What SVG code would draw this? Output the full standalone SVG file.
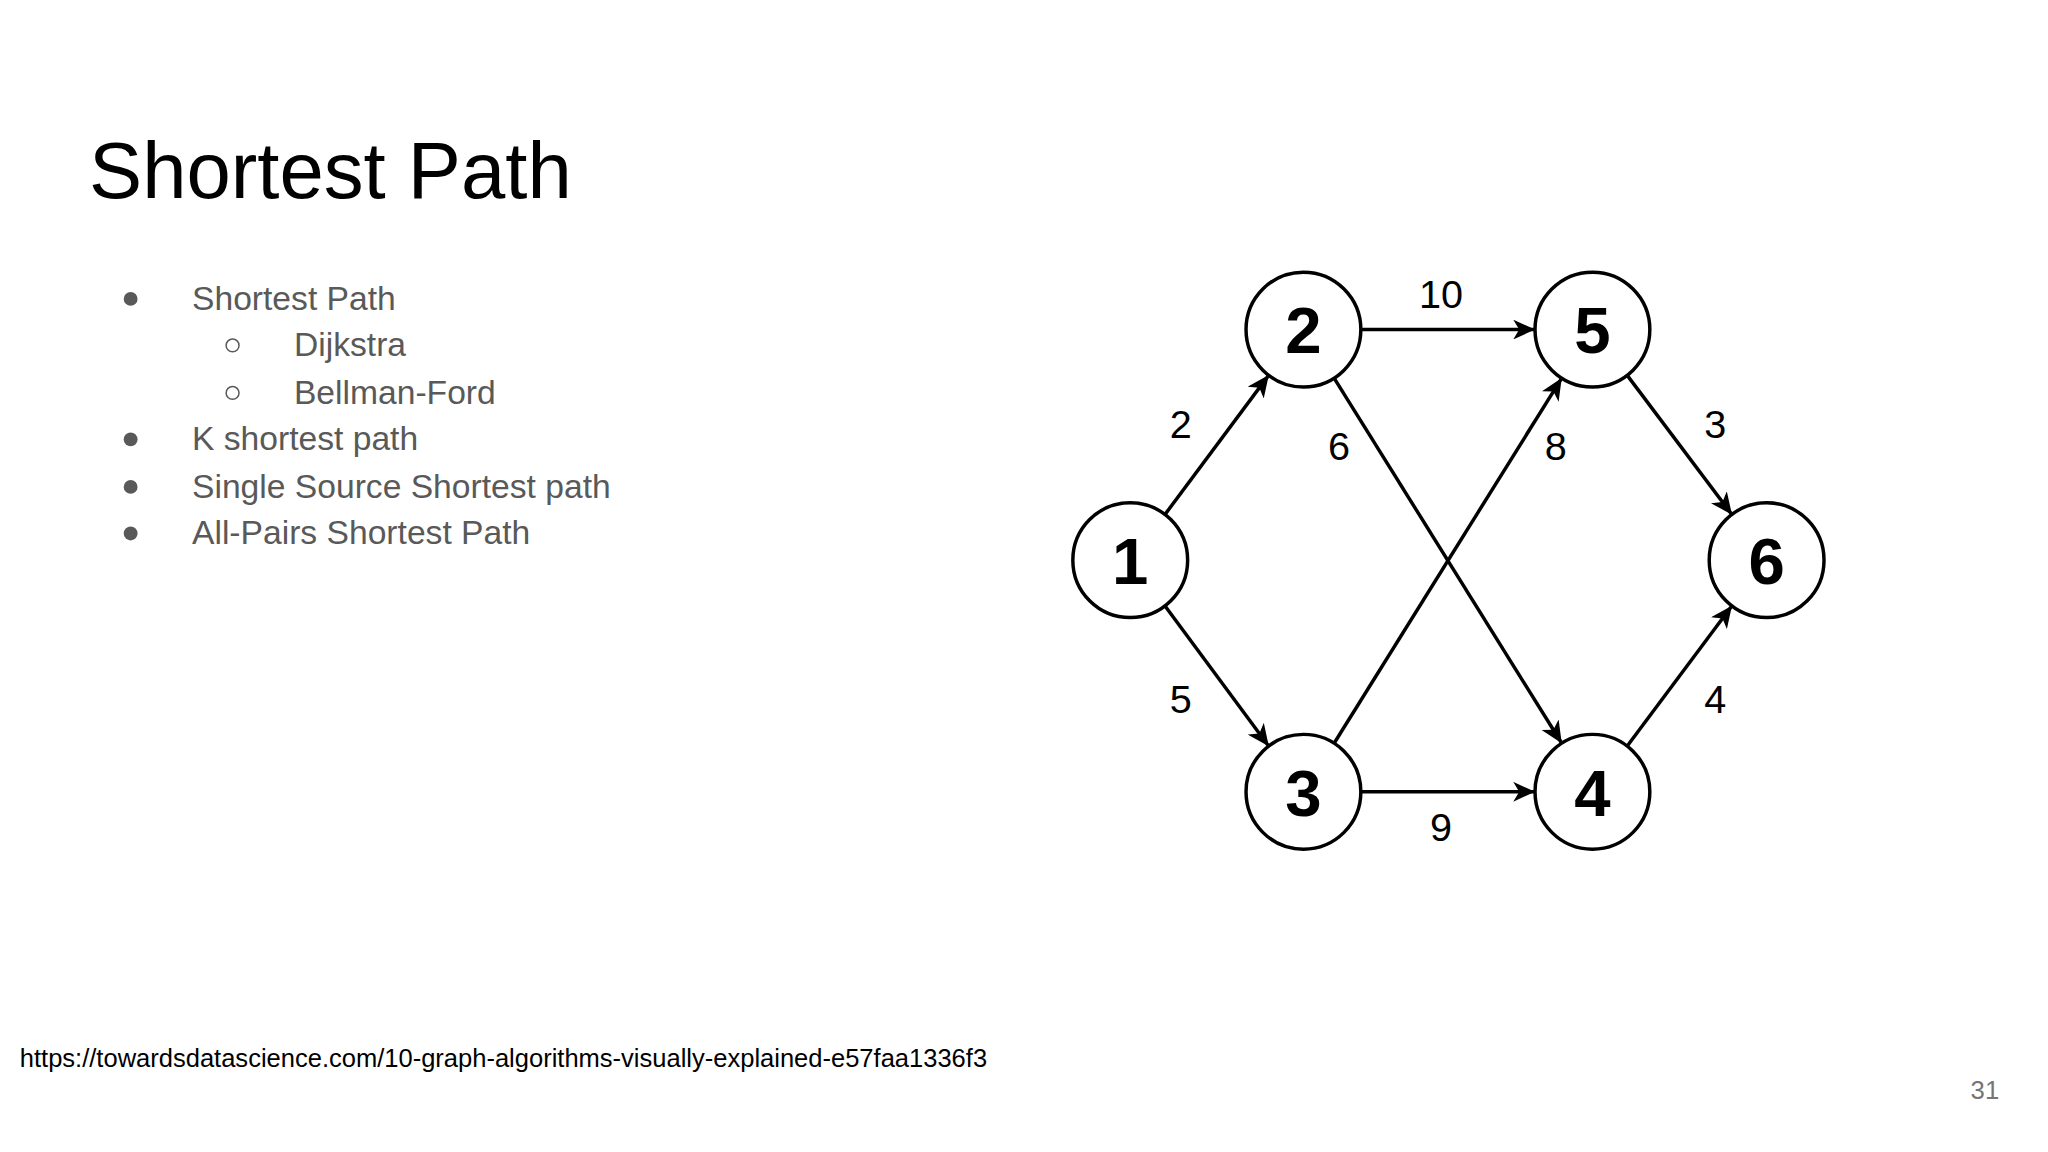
<svg xmlns="http://www.w3.org/2000/svg" width="2048" height="1152" viewBox="0 0 2048 1152">
<style>
.t{font-family:"Liberation Sans",Arial,sans-serif}
.b{font-size:34px;fill:#595959}
.n{fill:#fff;stroke:#000;stroke-width:3.5}
.nl{font-size:66px;font-weight:bold;text-anchor:middle}
.el{font-size:40px;text-anchor:middle}
.e{stroke:#000;stroke-width:3.5;fill:none;marker-end:url(#a)}
</style>
<defs><marker id="a" markerUnits="userSpaceOnUse" markerWidth="24" markerHeight="20" refX="22" refY="10" orient="auto"><path d="M0,0 L22,10 L0,20 L6,10 Z" fill="#000"/></marker></defs>
<rect width="2048" height="1152" fill="#fff"/>
<g transform="scale(0.9897)">
<text class="t" x="90" y="200" font-size="80.5">Shortest Path</text>
<g class="t b">
<circle cx="132" cy="302" r="7" fill="#595959"/><text x="194" y="313">Shortest Path</text>
<circle cx="235" cy="349" r="6.5" fill="none" stroke="#595959" stroke-width="1.5"/><text x="297" y="360">Dijkstra</text>
<circle cx="235" cy="397" r="6.5" fill="none" stroke="#595959" stroke-width="1.5"/><text x="297" y="408">Bellman-Ford</text>
<circle cx="132" cy="444" r="7" fill="#595959"/><text x="194" y="455">K shortest path</text>
<circle cx="132" cy="492" r="7" fill="#595959"/><text x="194" y="503">Single Source Shortest path</text>
<circle cx="132" cy="539" r="7" fill="#595959"/><text x="194" y="550">All-Pairs Shortest Path</text>
</g>
<text class="t" x="20" y="1078" font-size="25.8">https://towardsdatascience.com/10-graph-algorithms-visually-explained-e57faa1336f3</text>
<text class="t" x="2020" y="1110" font-size="26" fill="#757575" text-anchor="end">31</text>
<g id="connectors">
<line class="e" x1="1177" y1="520" x2="1282" y2="379"/>
<line class="e" x1="1177" y1="612" x2="1282" y2="754"/>
<line class="e" x1="1375" y1="333" x2="1551" y2="333"/>
<line class="e" x1="1375" y1="800" x2="1551" y2="800"/>
<line class="e" x1="1348" y1="382" x2="1578" y2="751"/>
<line class="e" x1="1348" y1="751" x2="1578" y2="382"/>
<line class="e" x1="1644" y1="379" x2="1750" y2="520"/>
<line class="e" x1="1644" y1="754" x2="1750" y2="612"/>
<g class="t el">
<text x="1456" y="311">10</text><text x="1193" y="443">2</text><text x="1353" y="465">6</text><text x="1572" y="465">8</text><text x="1733" y="443">3</text><text x="1193" y="720">5</text><text x="1733" y="720">4</text><text x="1456" y="850">9</text>
</g>
</g>
<g id="n1"><circle class="n" cx="1142" cy="566" r="58"/><text class="t nl" x="1142" y="590">1</text></g>
<g id="n2"><circle class="n" cx="1317" cy="333" r="58"/><text class="t nl" x="1317" y="357">2</text></g>
<g id="n5"><circle class="n" cx="1609" cy="333" r="58"/><text class="t nl" x="1609" y="357">5</text></g>
<g id="n6"><circle class="n" cx="1785" cy="566" r="58"/><text class="t nl" x="1785" y="590">6</text></g>
<g id="n3"><circle class="n" cx="1317" cy="800" r="58"/><text class="t nl" x="1317" y="824">3</text></g>
<g id="n4"><circle class="n" cx="1609" cy="800" r="58"/><text class="t nl" x="1609" y="824">4</text></g>
</g>
</svg>
